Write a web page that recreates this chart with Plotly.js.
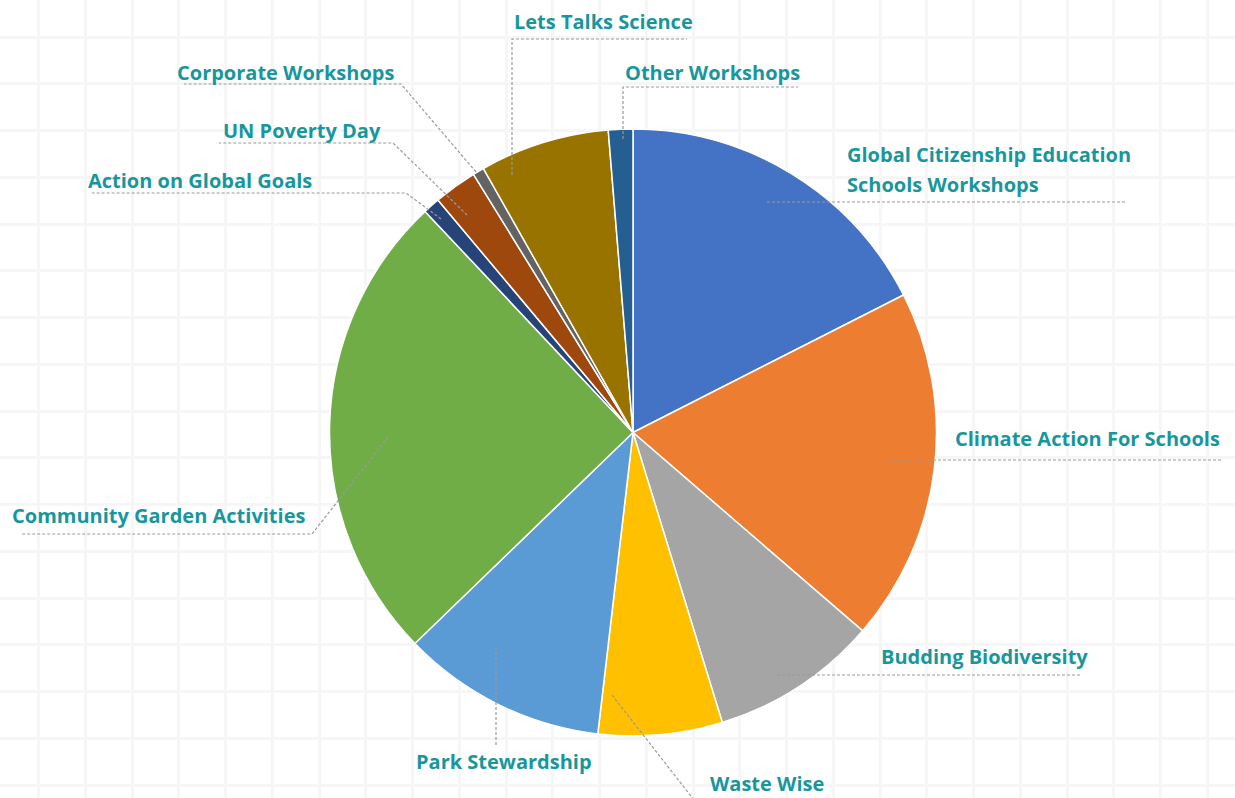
<!DOCTYPE html>
<html>
<head>
<meta charset="utf-8">
<script src="https://cdn.plot.ly/plotly-3.0.1.min.js"></script>
<style>
  html, body { margin: 0; padding: 0; background: #ffffff; }
  #chart { width: 1235px; height: 798px; }
</style>
</head>
<body>
<div id="chart"></div>
<script>
// ---- data ----
const categories = [
  "Global Citizenship Education\nSchools Workshops",
  "Climate Action For Schools",
  "Budding Biodiversity",
  "Waste Wise",
  "Park Stewardship",
  "Community Garden Activities",
  "Action on Global Goals",
  "UN Poverty Day",
  "Corporate Workshops",
  "Lets Talks Science",
  "Other Workshops"
];
const values = [17.5, 18.8, 8.9, 6.6, 10.9, 25.2, 0.9, 2.3, 0.6, 6.9, 1.3];
const colors = ["#4472C4", "#ED7D31", "#A5A5A5", "#FFC000", "#5B9BD5", "#70AD47",
                "#264478", "#9E480E", "#636363", "#997300", "#255E91"];

// ---- label layout (pixel positions in page space, y down) ----
const labelX = [845, 953, 879, 708, 414, 10, 86, 221, 175, 512, 623];
const labelY = [154, 438, 656, 783, 761, 515, 180, 130, 72, 21, 72];
const leaderPaths = [
  [[767, 202], [1126, 202]],
  [[888, 460], [1223, 460]],
  [[777, 675], [1080, 675]],
  [[612, 695], [694, 800]],
  [[496, 647], [496, 747]],
  [[388, 437], [312, 534], [22, 534]],
  [[441, 219], [406, 193], [92, 193]],
  [[467, 215], [393, 143], [219, 143]],
  [[476, 172], [401, 84], [184, 84]],
  [[512, 175], [512, 39], [687, 39]],
  [[623, 139], [623, 87], [798, 87]]
];

const W = 1235, H = 798;
const pieCx = 633, pieCy = 432.5, pieR = 303.5;
const teal = "#17979d";

const annotations = [];
categories.forEach((c, i) => {
  c.split("\n").forEach((line, j) => {
    annotations.push({
      xref: "x", yref: "y",
      x: labelX[i], y: labelY[i] + j * 30,
      xanchor: "left", yanchor: "middle",
      text: "<b>" + line + "</b>",
      showarrow: false,
      font: { family: "Open Sans, sans-serif", size: 20, color: teal }
    });
  });
});

const shapes = leaderPaths.map(p => ({
  type: "path",
  xref: "x", yref: "y",
  path: p.map((pt, k) => (k === 0 ? "M" : "L") + pt[0] + "," + pt[1]).join(" "),
  line: { color: "#9a9a9a", width: 1.2, dash: "3px,2px" },
  layer: "above"
}));

const pieTrace = {
  type: "pie",
  labels: categories.map(c => c.replace("\n", " ")),
  values: values,
  marker: { colors: colors, line: { color: "#ffffff", width: 1.5 } },
  sort: false,
  direction: "clockwise",
  rotation: 0,
  textinfo: "none",
  hoverinfo: "label+percent",
  showlegend: false,
  domain: {
    x: [(pieCx - pieR) / W, (pieCx + pieR) / W],
    y: [(H - pieCy - pieR) / H, (H - pieCy + pieR) / H]
  }
};

// invisible scatter to activate the cartesian grid
const gridTrace = {
  type: "scatter", x: [0, W], y: [0, H], mode: "markers",
  marker: { opacity: 0 }, hoverinfo: "skip", showlegend: false
};

const layout = {
  width: W, height: H,
  margin: { l: 0, r: 0, t: 0, b: 0 },
  paper_bgcolor: "#ffffff",
  plot_bgcolor: "#ffffff",
  showlegend: false,
  xaxis: {
    range: [0, W], showgrid: true, gridcolor: "#f6f6f6", gridwidth: 3,
    tick0: 38.5, dtick: 46.75, tickmode: "linear",
    showticklabels: false, ticks: "", zeroline: false, showline: false, fixedrange: true
  },
  yaxis: {
    range: [H, 0], showgrid: true, gridcolor: "#f6f6f6", gridwidth: 3,
    tick0: 37, dtick: 46.75, tickmode: "linear",
    showticklabels: false, ticks: "", zeroline: false, showline: false, fixedrange: true
  },
  annotations: annotations,
  shapes: shapes
};

Plotly.newPlot("chart", [gridTrace, pieTrace], layout, { displayModeBar: false, staticPlot: true });
</script>
</body>
</html>
